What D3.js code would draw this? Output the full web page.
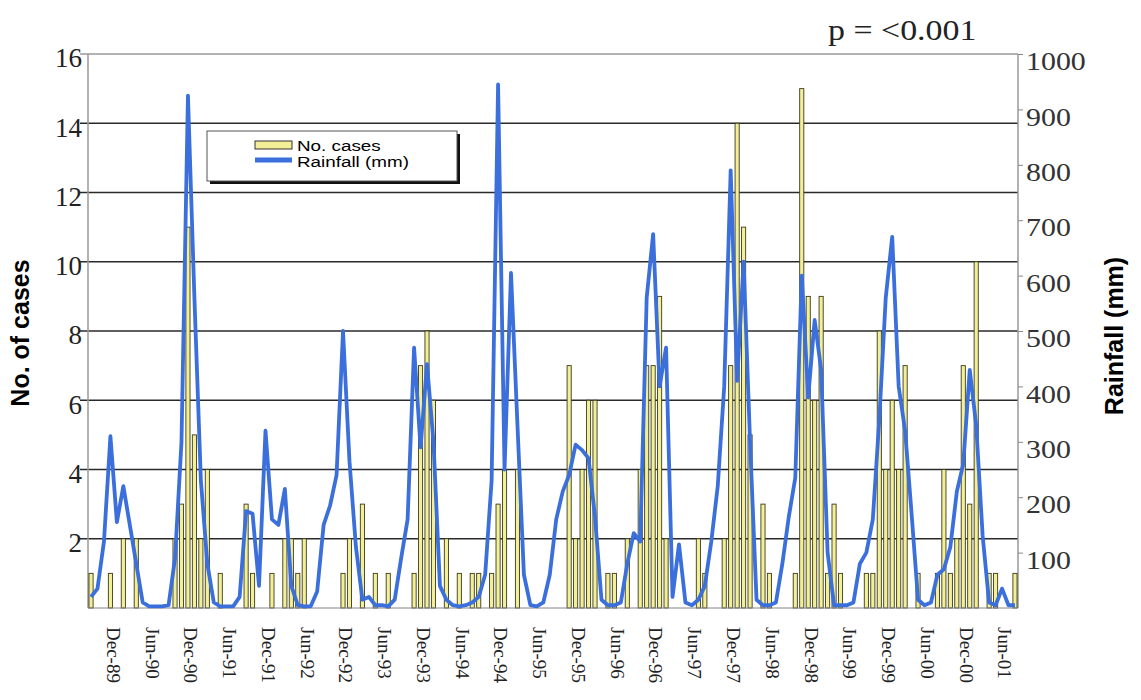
<!DOCTYPE html>
<html>
<head>
<meta charset="utf-8">
<script src="https://cdn.jsdelivr.net/npm/d3@7"></script>
<style>
  body { margin: 0; background: #fff; }
  svg { display: block; }
</style>
</head>
<body>
<div id="chart"></div>
<script>
// monthly data, Sep-89 .. Aug-01
const cases = [
  1,0,0,1,0,2,0,2,0,0,0,0,
  0,2,3,11,5,2,4,0,1,0,0,0,
  3,1,0,0,1,0,2,2,1,2,0,0,
  0,0,0,1,2,0,3,0,1,0,1,0,
  0,0,1,7,8,6,0,2,0,1,0,1,
  1,0,1,3,4,0,4,0,0,0,0,0,
  0,0,7,2,4,6,6,0,1,1,0,2,
  0,4,7,7,9,2,0,0,0,0,2,1,
  0,0,2,7,14,11,5,0,3,1,0,0,
  0,1,15,9,6,9,1,3,1,0,0,0,
  1,1,8,4,6,4,7,0,1,0,0,1,
  4,1,2,7,3,10,0,1,1,0,0,1
]

const rainfall = [
  20,35,120,310,155,220,150,80,10,3,3,3,
  5,90,300,925,560,230,80,10,3,3,3,20,
  175,170,40,320,160,150,215,40,5,3,3,30,
  150,185,240,500,265,110,15,20,5,5,3,15,
  90,160,470,290,440,300,40,15,5,3,5,10,
  20,60,230,945,250,605,330,60,5,3,10,60,
  160,210,240,295,285,270,165,15,5,5,10,80,
  135,120,560,675,400,470,20,115,10,5,15,40,
  120,220,400,790,410,625,300,15,5,5,10,80,
  165,235,600,380,520,430,100,5,5,5,10,80,
  100,160,340,560,670,400,320,170,15,5,10,60,
  70,110,210,260,430,330,130,10,5,35,5,5
]

// tick labels sit on every Dec / Jun, first one is month index 3
const tickLabels = ["Dec-89","Jun-90","Dec-90","Jun-91","Dec-91","Jun-92","Dec-92","Jun-93",
  "Dec-93","Jun-94","Dec-94","Jun-95","Dec-95","Jun-96","Dec-96","Jun-97","Dec-97","Jun-98",
  "Dec-98","Jun-99","Dec-99","Jun-00","Dec-00","Jun-01"]
const leftTicks = [2,4,6,8,10,12,14,16]
const rightTicks = [100,200,300,400,500,600,700,800,900,1000]

const WIDTH = 1141
const HEIGHT = 700
const LEFT = 88, RIGHT = 1018, TOP = 54, BOTTOM = 608
const SERIF = "'Liberation Serif', 'DejaVu Serif', serif"
const SANS = "'Liberation Sans', Arial, sans-serif"

const svg = d3.select("#chart").append("svg")
  .attr("width", WIDTH)
  .attr("height", HEIGHT)

const x = d3.scaleBand()
  .domain(d3.range(cases.length))
  .range([LEFT, RIGHT])
  .paddingInner(0.36)
  .paddingOuter(0.15)

const yL = d3.scaleLinear().domain([0, 16]).range([BOTTOM, TOP])
const yR = d3.scaleLinear().domain([0, 1000]).range([BOTTOM, TOP])

//gridlines
svg.append("g")
  .selectAll("line")
  .data(leftTicks.filter(d => d < 16))
  .enter()
  .append("line")
  .attr("x1", LEFT - 8)
  .attr("x2", RIGHT)
  .attr("y1", d => yL(d))
  .attr("y2", d => yL(d))
  .attr("stroke", "#2a2a2a")
  .attr("stroke-width", 1.3)

// top border + left/right axis lines
svg.append("line")
  .attr("x1", LEFT - 8).attr("x2", RIGHT)
  .attr("y1", yL(16)).attr("y2", yL(16))
  .attr("stroke", "#999").attr("stroke-width", 1.5)
svg.append("line")
  .attr("x1", LEFT).attr("x2", LEFT)
  .attr("y1", TOP).attr("y2", BOTTOM)
  .attr("stroke", "#999").attr("stroke-width", 1.5)
svg.append("line")
  .attr("x1", RIGHT).attr("x2", RIGHT)
  .attr("y1", TOP).attr("y2", BOTTOM)
  .attr("stroke", "#999").attr("stroke-width", 1.5)

//bars (keep the month index, skip empty months)
const barData = cases.map((v, i) => ({ i: i, v: v })).filter(d => d.v > 0)

svg.append("g")
  .selectAll("rect")
  .data(barData)
  .enter()
  .append("rect")
  .attr("x", d => x(d.i))
  .attr("width", x.bandwidth())
  .attr("y", d => yL(d.v))
  .attr("height", d => yL(0) - yL(d.v))
  .attr("fill", "#f3ef96")
  .attr("stroke", "#3a3a20")
  .attr("stroke-width", 0.9)

// baseline
svg.append("line")
  .attr("x1", LEFT).attr("x2", RIGHT)
  .attr("y1", BOTTOM).attr("y2", BOTTOM)
  .attr("stroke", "#888").attr("stroke-width", 1.2)

//rainfall line
const line = d3.line()
  .x((d, i) => x(i) + x.bandwidth() / 2)
  .y(d => yR(d))

svg.append("path")
  .datum(rainfall)
  .attr("d", line)
  .attr("fill", "none")
  .attr("stroke", "#3b6fdc")
  .attr("stroke-width", 3.8)
  .attr("stroke-linejoin", "round")

// left axis labels
svg.append("g")
  .selectAll("text")
  .data(leftTicks)
  .enter()
  .append("text")
  .attr("x", LEFT - 6)
  .attr("y", d => yL(d) + 4)
  .attr("dy", "0.35em")
  .attr("text-anchor", "end")
  .style("font-family", SERIF)
  .style("font-size", "27px")
  .attr("fill", "#222")
  .text(d => d)

// right axis
const axisR = d3.axisRight(yR).tickValues(rightTicks).tickSize(5).tickFormat(d => d)
const gR = svg.append("g")
  .attr("transform", `translate(${RIGHT},0)`)
  .call(axisR)
gR.select(".domain").remove()
gR.selectAll(".tick line").attr("stroke", "#888")
gR.selectAll(".tick text")
  .attr("x", 0)
  .attr("dy", "0.6em")
  .attr("transform", "translate(8,0) scale(1.15,1)")
  .style("font-family", SERIF)
  .style("font-size", "26px")
  .attr("fill", "#333")

// x labels
svg.append("g")
  .selectAll("text")
  .data(tickLabels)
  .enter()
  .append("text")
  .attr("transform", (d, i) => `translate(${x(3 + i * 6) + x.bandwidth() / 2 + 3},627) rotate(90)`)
  .attr("dy", "0.35em")
  .style("font-family", SERIF)
  .style("font-size", "19px")
  .attr("fill", "#222")
  .text(d => d)

// axis titles
svg.append("text")
  .attr("transform", `translate(29,${(TOP + BOTTOM) / 2 + 2}) rotate(-90)`)
  .attr("text-anchor", "middle")
  .style("font-family", SANS)
  .style("font-weight", "bold")
  .style("font-size", "25px")
  .text("No. of cases")

svg.append("text")
  .attr("transform", `translate(1123,${(TOP + BOTTOM) / 2 + 5}) rotate(-90)`)
  .attr("text-anchor", "middle")
  .style("font-family", SANS)
  .style("font-weight", "bold")
  .style("font-size", "25px")
  .text("Rainfall (mm)")

svg.append("text")
  .attr("transform", "translate(828,40) scale(1.17,1)")
  .style("font-family", SERIF)
  .style("font-size", "29px")
  .attr("fill", "#222")
  .text("p = <0.001")

// legend
const legend = svg.append("g").attr("transform", "translate(207,131)")
legend.append("rect")
  .attr("x", 3).attr("y", 3).attr("width", 250).attr("height", 50)
  .attr("fill", "#111")
legend.append("rect")
  .attr("width", 250).attr("height", 50)
  .attr("fill", "#fff").attr("stroke", "#555").attr("stroke-width", 1)
legend.append("rect")
  .attr("x", 48).attr("y", 10).attr("width", 37).attr("height", 8)
  .attr("fill", "#f3ef96").attr("stroke", "#333").attr("stroke-width", 1)
legend.append("line")
  .attr("x1", 48).attr("x2", 85).attr("y1", 29).attr("y2", 29)
  .attr("stroke", "#3b6fdc").attr("stroke-width", 5)
legend.append("text")
  .attr("transform", "translate(90,20) scale(1.3,1)")
  .style("font-family", SANS)
  .style("font-size", "14.5px")
  .text("No. cases")
legend.append("text")
  .attr("transform", "translate(90,36) scale(1.3,1)")
  .style("font-family", SANS)
  .style("font-size", "14.5px")
  .text("Rainfall (mm)")
</script>
</body>
</html>
